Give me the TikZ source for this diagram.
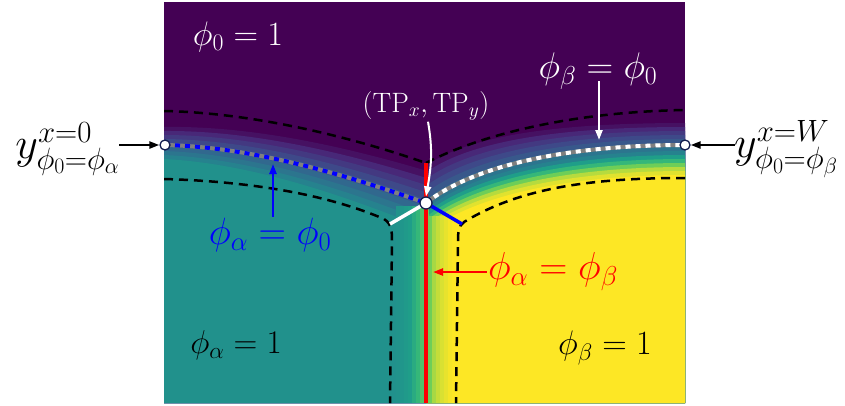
\documentclass[tikz,border=0pt]{standalone}
\usepackage{fix-cm}
\usepackage{xcolor}
\usetikzlibrary{arrows.meta, positioning}

% viridis
\definecolor{v0}{RGB}{68,1,84}
\definecolor{v1}{RGB}{72,40,120}
\definecolor{v2}{RGB}{62,73,137}
\definecolor{v3}{RGB}{49,104,142}
\definecolor{v4}{RGB}{38,130,142}
\definecolor{v5}{RGB}{31,158,137}
\definecolor{v6}{RGB}{53,183,121}
\definecolor{v7}{RGB}{110,206,88}
\definecolor{v8}{RGB}{253,231,37}
\definecolor{tealph}{RGB}{33,145,140}
\definecolor{ringblue}{RGB}{20,30,80}

\tikzstyle{lab}   = [inner sep=1pt, text=white]
\tikzstyle{bound} = [black, line width=2.5pt, dash pattern=on 9pt off 6pt]
\tikzstyle{ring}  = [circle, draw=ringblue, fill=white, line width=1.3pt,
                     inner sep=0pt, minimum size=10pt]
\tikzstyle{arrow} = [-{Triangle[length=10pt, width=7pt]}, line width=2.2pt]
\tikzstyle{leg}   = [line width=3.5pt]
\tikzset{contour/.style={line width=4pt, draw=gray,
         postaction={draw=#1, dash pattern=on 5pt off 5pt}}}
\newcommand{\fs}[1]{\fontsize{#1}{#1}\selectfont}

\begin{document}
\begin{tikzpicture}[x=1pt, y=-1pt, font=\fs{33}]
  \useasboundingbox (0,0) rectangle (845,405);

  % Points
  \coordinate (lp) at (165,145);
  \coordinate (rp) at (685,145);
  \coordinate (tp) at (426,203);
  \coordinate (rtop) at (426,163);
  \coordinate (rbot) at (426,403);
  \coordinate (wl) at (390,224);
  \coordinate (bl) at (462,224);

  \begin{scope}
    \clip (164,2) rectangle (685,403);
    \fill[v0] (164,2) rectangle (685,403);
    % alpha side
    \foreach \d/\c in {-18/v0!60!v1, -14/v1, -10/v1!50!v2, -6/v2, -2/v2!50!v3,
                       2/v3, 6/v3!50!v4, 10/v4, 14/tealph}
      \fill[\c] (164,145+\d) .. controls (260,{147+1.2*\d}) and (360,{180+1.6*\d})
                .. (426,{203+1.8*\d}) -- (426,403) -- (164,403) -- cycle;
    % beta side
    \foreach \d/\c in {-22/v0!60!v1, -18/v1, -14/v1!50!v2, -10/v2, -6/v2!50!v3,
                       -2/v3, 2/v3!50!v4, 6/v4, 10/v5, 14/v6, 18/v7,
                       22/v7!50!v8, 26/v7!20!v8, 30/v8}
      \fill[\c] (426,{203+\d*(1+0.7*(\d<0))}) .. controls (470,{168+\d*(1+0.5*(\d<0))})
                and (560,145+\d) .. (685,145+\d) -- (685,403) -- (426,403) -- cycle;
    % alpha-beta interface
    \foreach \x/\c in {396/tealph!85!v5, 400/tealph!60!v5, 404/tealph!30!v5, 408/v5,
                       412/v5!50!v6, 416/v6, 420/v6!50!v7, 424/v7, 428/v7,
                       432/v7!60!v8, 436/v7!40!v8, 440/v7!25!v8, 444/v7!15!v8,
                       448/v8!95!v7, 452/v8}
      \fill[\c] (\x,{206+10*(\x>426)}) rectangle (\x+4.5,403);

    % Bounds
    \draw[bound] (164,111) .. controls (260,113) and (360,140) .. (rtop);
    \draw[bound] (rtop) .. controls (480,135) and (570,112) .. (685,110);
    \draw[bound] (164,179) .. controls (270,182) and (340,200) .. (384,219)
                 .. controls (392,224) and (392,232) .. (392,242) -- (390,403);
    \draw[bound] (685,178) .. controls (590,178) and (520,188) .. (464,222)
                 .. controls (458,226) and (458,234) .. (458,242) -- (456,403);
  \end{scope}

  % Contours
  \draw[contour=blue] (lp) .. controls (260,147) and (360,180) .. (tp);
  \draw[contour=white] (tp) .. controls (470,168) and (560,145) .. (rp);
  \draw[leg, red] (rtop) -- (rbot);
  \draw[leg, white] (tp) -- (wl);
  \draw[leg, blue] (tp) -- (bl);

  \node[ring] (lpring) at (lp) {};
  \node[ring] (rpring) at (rp) {};
  \node[ring, minimum size=12pt] (tpring) at (tp) {};

  % Labels
  \node[lab, font=\fs{34}] (zerolab) at (238,37) {$\phi_0 = 1$};
  \node[lab, font=\fs{28}] (tplab) at (426,106) {$(\mathrm{TP}_x, \mathrm{TP}_y)$};
  \node[lab, font=\fs{37}] (wlab) at (598,71) {$\phi_\beta = \phi_0$};
  \node[inner sep=1pt, blue, font=\fs{38}] (blab) at (270,235) {$\phi_\alpha = \phi_0$};
  \node[inner sep=1pt, red, font=\fs{39}] (rlab) at (553,272) {$\phi_\alpha = \phi_\beta$};
  \node[inner sep=1pt] (alab) at (236,345) {$\phi_\alpha = 1$};
  \node[inner sep=1pt, font=\fs{34}] (betalab) at (605,348) {$\phi_\beta = 1$};
  \node[inner sep=1pt, anchor=east, font=\fs{44}] (ylab) at (121,149)
       {$y^{x=0}_{\phi_0=\phi_\alpha}$};
  \node[inner sep=1pt, anchor=west, font=\fs{44}] (yrlab) at (733,149)
       {$y^{x=W}_{\phi_0=\phi_\beta}$};

  % Arrows
  \coordinate (bt) at (273,164);
  \coordinate (wt) at (599,140);
  \coordinate (rt) at (433,272);
  \draw[arrow] ([xshift=-2pt]ylab.east |- lp) -- (lpring.west);
  \draw[arrow] ([xshift=2pt]yrlab.west |- rp) -- (rpring.east);
  \draw[arrow, blue] (blab.north -| bt) -- (bt);
  \draw[arrow, white] ([yshift=9pt]wlab.south -| wt) -- (wt);
  \draw[arrow, red] (rlab.west) -- (rt);
  \draw[arrow, white, line width=2pt] ([xshift=2pt]tplab.south) to[out=-80, in=80] (tpring.north);
\end{tikzpicture}
\end{document}
